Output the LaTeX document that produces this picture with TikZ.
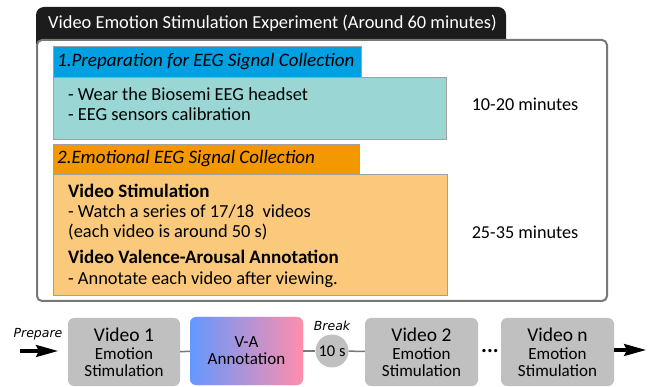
\documentclass[tikz,border=0pt]{standalone}
\usepackage{fontspec}
\setmainfont{Carlito}
\newfontfamily\smallobl{DejaVu Sans}
\usepackage{xcolor}
\usepackage{tikz}
\usetikzlibrary{shapes,arrows.meta,positioning,calc}
\definecolor{tabblack}{RGB}{28,28,28}
\definecolor{framegray}{RGB}{120,120,120}
\definecolor{edgegray}{RGB}{160,160,160}
\definecolor{hdrblue}{RGB}{0,160,226}
\definecolor{bodyteal}{RGB}{154,214,211}
\definecolor{hdrorange}{RGB}{243,152,0}
\definecolor{bodyorange}{RGB}{250,201,124}
\definecolor{stepgray}{RGB}{192,192,192}
\definecolor{vablue}{RGB}{100,152,255}
\definecolor{vapink}{RGB}{255,142,172}
\newcommand{\vidtitle}{\fontsize{19.5}{22}\selectfont}

\begin{document}
\begin{tikzpicture}[x=1pt, y=-1pt,
    frame/.style={rectangle, draw=framegray, line width=2pt, fill=white, rounded corners=5pt, anchor=north west, inner sep=0pt},
    header/.style={rectangle, draw=edgegray, line width=0.8pt, anchor=north west, inner sep=0pt},
    body/.style={rectangle, draw=edgegray, line width=0.8pt, anchor=north west, inner sep=0pt},
    hdrtext/.style={anchor=west, inner sep=0pt, font=\fontsize{19}{22}\selectfont\itshape},
    line/.style={anchor=base west, inner sep=0pt, font=\fontsize{18.4}{21}\selectfont},
    boldline/.style={line, font=\fontsize{19}{21}\selectfont\bfseries},
    duration/.style={font=\fontsize{18.2}{21}\selectfont},
    stepbox/.style={rectangle, fill=stepgray, rounded corners=6pt, minimum width=112pt, minimum height=68pt, align=center, inner sep=0pt, font=\fontsize{17}{19}\selectfont},
    link/.style={draw=framegray, line width=1.5pt},
    bigarrow/.style={line width=3pt, -{Stealth[length=22pt, width=12pt, inset=3pt]}},
    smalllabel/.style={font=\smallobl\fontsize{12.5}{14}\selectfont\itshape}]
  \useasboundingbox (0,0) rectangle (648,387);

  % experiment frame
  \fill[tabblack, rounded corners=8pt] (36,60) -- (36,7) -- (506,7) -- (506,60) -- cycle;
  \node[anchor=west, inner sep=0pt, text=white, font=\fontsize{18.4}{21}\selectfont] (title) at (48,23) {Video Emotion Stimulation Experiment (Around 60 minutes)};
  \node[frame, minimum width=570pt, minimum height=261pt] (frame) at (36,39) {};

  % part 1
  \node[body, fill=bodyteal, minimum width=393pt, minimum height=62pt] (prepbody) at (53,77) {};
  \node[header, fill=hdrblue, minimum width=308pt, minimum height=31pt] (prephdr) at (53,46) {};
  \node[hdrtext] (preptext) at (57,62) {1.Preparation for EEG Signal Collection};
  \node[line] (wear) at (68,101) {- Wear the Biosemi EEG headset};
  \node[line] (calib) at (68,121) {- EEG sensors calibration};
  \node[duration] (time1) at (525,104) {10-20 minutes};

  % part 2
  \node[body, fill=bodyorange, minimum width=394pt, minimum height=121pt] (emobody) at (53,174) {};
  \node[header, fill=hdrorange, minimum width=306pt, minimum height=30pt] (emohdr) at (53,144) {};
  \node[hdrtext] (emotext) at (57,159) {2.Emotional EEG Signal Collection};
  \node[boldline] (stim) at (68,198) {Video Stimulation};
  \node[line] (watch) at (68,218) {- Watch a series of 17/18\ \ videos};
  \node[line] (each) at (68,238) {(each video is around 50 s)};
  \node[boldline] (vaann) at (68,264) {Video Valence-Arousal Annotation};
  \node[line] (annot) at (68,285) {- Annotate each video after viewing.};
  \node[duration] (time2) at (525,232) {25-35 minutes};

  % timeline
  \node[stepbox] (vid1) at (124,352) {{\vidtitle Video 1}\\[-1pt] Emotion\\[-2pt] Stimulation};
  \node[stepbox, minimum width=113pt, left color=vablue, right color=vapink] (va) at (246.5,351) {V-A\\[-2pt] Annotation};
  \node[circle, fill=stepgray, minimum size=33pt, inner sep=0pt, font=\fontsize{16.5}{18}\selectfont] (brk) at (332,351) {10 s};
  \node[smalllabel] (brklabel) at (332,326) {Break};
  \node[stepbox, minimum width=113pt] (vid2) at (421.5,352) {{\vidtitle Video 2}\\[-1pt] Emotion\\[-2pt] Stimulation};
  \node[font=\fontsize{22}{22}\selectfont\bfseries] (dots) at (490,351) {...};
  \node[stepbox, minimum width=113pt] (vidn) at (557.5,352) {{\vidtitle Video n}\\[-1pt] Emotion\\[-2pt] Stimulation};
  \node[smalllabel] (prep) at (38,334) {Prepare};
  \coordinate (startA) at (20,351);
  \coordinate (startB) at (58,351);
  \coordinate (endB) at (646,350);

  \draw[link] (vid1) -- (va);
  \draw[link] (va) -- (brk);
  \draw[link] (brk) -- (vid2);
  \draw[bigarrow] (startA) -- (startB);
  \draw[bigarrow] (vidn.east |- endB) -- (endB);
\end{tikzpicture}
\end{document}
